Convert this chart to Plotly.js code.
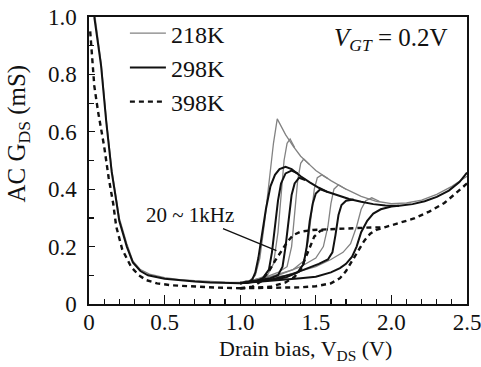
<!DOCTYPE html>
<html>
<head>
<meta charset="utf-8">
<script src="https://cdn.plot.ly/plotly-3.0.1.min.js"></script>
<style>html,body{margin:0;padding:0;background:#fff;}#chart{width:481px;height:367px;}</style>
</head>
<body>
<div id="chart"></div>
<script>
// ---- data ----
var xTickVals = [0, 0.5, 1.0, 1.5, 2.0, 2.5];
var xTickText = ['0', '0.5', '1.0', '1.5', '2.0', '2.5'];
var yTickVals = [0, 0.2, 0.4, 0.6, 0.8, 1.0];
var yTickText = ['0', '0.2', '0.4', '0.6', '0.8', '1.0'];
var tempLabels = ['218K', '298K', '398K'];

// 218K (grey) low-bias branch and frequency curves
var g_low_x = [0.04,0.08,0.115,0.15,0.18,0.2,0.25,0.29,0.34,0.4,0.5,0.6,0.7,0.8,0.9,1.0];
var g_low_y = [1.0,0.84,0.64,0.47,0.37,0.30,0.21,0.15,0.12,0.104,0.092,0.085,0.081,0.078,0.076,0.075];
var g1_x = [1.0,1.06,1.1,1.13,1.16,1.19,1.22,1.245,1.27,1.3,1.35,1.4,1.45,1.5,1.6,1.7,1.8,1.9,2.0,2.1,2.2,2.3,2.4,2.5];
var g1_y = [0.075,0.08,0.1,0.16,0.28,0.42,0.56,0.645,0.62,0.59,0.55,0.515,0.49,0.465,0.43,0.40,0.375,0.358,0.35,0.352,0.362,0.382,0.41,0.445];
var g2_x = [1.0,1.1,1.18,1.22,1.25,1.27,1.29,1.31,1.33,1.36];
var g2_y = [0.075,0.085,0.1,0.14,0.25,0.38,0.5,0.56,0.575,0.545];
var g3_x = [1.0,1.15,1.25,1.31,1.34,1.36,1.38,1.4,1.42,1.46];
var g3_y = [0.075,0.09,0.11,0.13,0.2,0.32,0.43,0.49,0.505,0.485];
var g4_x = [1.0,1.2,1.35,1.42,1.45,1.47,1.49,1.51,1.54,1.58];
var g4_y = [0.075,0.095,0.12,0.15,0.22,0.32,0.4,0.44,0.45,0.437];
var g5_x = [1.0,1.25,1.4,1.5,1.55,1.58,1.6,1.62,1.65,1.7];
var g5_y = [0.075,0.1,0.13,0.16,0.2,0.27,0.35,0.4,0.415,0.4];
var g6_x = [1.0,1.3,1.5,1.6,1.68,1.73,1.77,1.8,1.83,1.87,1.92];
var g6_y = [0.075,0.1,0.13,0.155,0.18,0.21,0.27,0.33,0.36,0.37,0.358];

// 298K (solid black)
var s_low_x = [0.035,0.08,0.115,0.15,0.18,0.2,0.25,0.29,0.34,0.39,0.5,0.6,0.7,0.8,0.9,1.0];
var s_low_y = [1.0,0.83,0.63,0.46,0.36,0.29,0.2,0.145,0.115,0.1,0.088,0.082,0.078,0.075,0.073,0.072];
var s1_x = [1.0,1.05,1.08,1.1,1.12,1.14,1.17,1.2,1.23,1.26,1.3,1.34,1.4,1.46,1.52,1.58,1.65,1.72,1.8,1.88,1.96,2.05,2.14,2.22,2.3,2.38,2.45,2.5];
var s1_y = [0.072,0.075,0.085,0.11,0.16,0.23,0.33,0.41,0.45,0.47,0.478,0.47,0.445,0.424,0.405,0.39,0.377,0.366,0.356,0.348,0.343,0.342,0.348,0.358,0.373,0.395,0.425,0.458];
var s2_x = [1.0,1.1,1.15,1.19,1.21,1.23,1.25,1.27,1.3,1.34,1.38];
var s2_y = [0.072,0.078,0.09,0.12,0.18,0.27,0.36,0.42,0.455,0.465,0.455];
var s3_x = [1.0,1.1,1.2,1.25,1.28,1.3,1.32,1.34,1.36,1.39,1.43];
var s3_y = [0.072,0.08,0.09,0.1,0.13,0.2,0.3,0.38,0.42,0.44,0.432];
var s4_x = [1.0,1.15,1.3,1.38,1.42,1.44,1.46,1.48,1.5,1.53,1.58];
var s4_y = [0.072,0.08,0.092,0.11,0.14,0.2,0.29,0.35,0.385,0.4,0.39];
var s5_x = [1.0,1.2,1.35,1.45,1.52,1.58,1.61,1.63,1.65,1.67,1.7,1.75];
var s5_y = [0.072,0.085,0.105,0.125,0.14,0.155,0.18,0.24,0.31,0.345,0.36,0.364];
var s6_x = [1.0,1.2,1.4,1.5,1.6,1.66,1.7,1.74,1.77,1.8,1.84,1.88,1.93,2.0,2.05];
var s6_y = [0.072,0.08,0.09,0.095,0.11,0.125,0.14,0.165,0.2,0.25,0.29,0.315,0.33,0.34,0.342];

// 398K (dashed)
var d_low_x = [0.008,0.02,0.035,0.06,0.1,0.13,0.16,0.18,0.22,0.28,0.33,0.38,0.45,0.55,0.7,0.85,1.0];
var d_low_y = [0.95,0.85,0.76,0.67,0.55,0.44,0.35,0.27,0.19,0.128,0.1,0.083,0.072,0.065,0.06,0.057,0.055];
var d1_x = [1.0,1.08,1.14,1.19,1.23,1.27,1.31,1.35,1.4,1.48,1.56,1.64,1.72,1.8,1.88,1.94];
var d1_y = [0.055,0.06,0.08,0.115,0.15,0.185,0.215,0.24,0.252,0.258,0.26,0.262,0.265,0.266,0.267,0.267];
var d2_x = [1.0,1.2,1.3,1.36,1.4,1.43,1.46,1.49,1.53,1.58];
var d2_y = [0.055,0.06,0.075,0.095,0.12,0.16,0.2,0.235,0.255,0.26];
var d3_x = [1.0,1.2,1.4,1.5,1.6,1.66,1.7,1.74,1.78,1.82,1.86,1.9,1.96,2.05,2.15,2.25,2.35,2.42,2.5];
var d3_y = [0.055,0.056,0.058,0.062,0.072,0.09,0.115,0.15,0.185,0.22,0.245,0.258,0.268,0.282,0.298,0.322,0.352,0.383,0.42];

// ---- styles ----
var greyLine = {color: '#828282', width: 1.3};
var blackLine = {color: '#111111', width: 2};
var dashLine = {color: '#111111', width: 2.4, dash: '5px,4px'};

function tr(x, y, line, name, group, show) {
  return {x: x, y: y, type: 'scatter', mode: 'lines', line: line,
          name: name, legendgroup: group, showlegend: !!show, hoverinfo: 'skip'};
}

var traces = [
  tr(g_low_x, g_low_y, greyLine, tempLabels[0], 'g', true),
  tr(g1_x, g1_y, greyLine, tempLabels[0], 'g'),
  tr(g2_x, g2_y, greyLine, tempLabels[0], 'g'),
  tr(g3_x, g3_y, greyLine, tempLabels[0], 'g'),
  tr(g4_x, g4_y, greyLine, tempLabels[0], 'g'),
  tr(g5_x, g5_y, greyLine, tempLabels[0], 'g'),
  tr(g6_x, g6_y, greyLine, tempLabels[0], 'g'),
  tr(s_low_x, s_low_y, blackLine, tempLabels[1], 's', true),
  tr(s1_x, s1_y, blackLine, tempLabels[1], 's'),
  tr(s2_x, s2_y, blackLine, tempLabels[1], 's'),
  tr(s3_x, s3_y, blackLine, tempLabels[1], 's'),
  tr(s4_x, s4_y, blackLine, tempLabels[1], 's'),
  tr(s5_x, s5_y, blackLine, tempLabels[1], 's'),
  tr(s6_x, s6_y, blackLine, tempLabels[1], 's'),
  tr(d_low_x, d_low_y, dashLine, tempLabels[2], 'd', true),
  tr(d1_x, d1_y, dashLine, tempLabels[2], 'd'),
  tr(d2_x, d2_y, dashLine, tempLabels[2], 'd'),
  tr(d3_x, d3_y, dashLine, tempLabels[2], 'd')
];

var FONT = 'Liberation Serif, DejaVu Serif, serif';

var layout = {
  width: 481, height: 367,
  margin: {l: 89, r: 14, t: 16, b: 63},
  paper_bgcolor: '#ffffff', plot_bgcolor: '#ffffff',
  font: {family: FONT, size: 20, color: '#111'},
  showlegend: true,
  legend: {x: 0.095, y: 1.017, xanchor: 'left', yanchor: 'top',
           bgcolor: 'rgba(0,0,0,0)', borderwidth: 0,
           font: {family: FONT, size: 24, color: '#111'},
           itemwidth: 36, tracegroupgap: 0, traceorder: 'grouped'},
  xaxis: {range: [0, 2.5], tickmode: 'array', tickvals: xTickVals, ticktext: xTickText,
          ticks: 'inside', ticklen: 9, tickwidth: 1.3, tickcolor: '#111',
          minor: {tickmode: 'linear', tick0: 0, dtick: 0.1, ticks: 'inside', ticklen: 5, tickwidth: 1.2, tickcolor: '#111', showgrid: false},
          showline: true, linecolor: '#111', linewidth: 1.6, mirror: true,
          showgrid: false, zeroline: false, ticklabeloverflow: 'allow',
          tickfont: {family: FONT, size: 23}, ticklabelstandoff: -3},
  yaxis: {range: [0, 1.0], tickmode: 'array', tickvals: yTickVals, ticktext: yTickText,
          ticks: 'inside', ticklen: 6, tickwidth: 1.3, tickcolor: '#111',
          minor: {tickmode: 'linear', tick0: 0, dtick: 0.1, ticks: 'inside', ticklen: 5, tickwidth: 1.2, tickcolor: '#111', showgrid: false},
          showline: true, linecolor: '#111', linewidth: 1.6, mirror: true,
          showgrid: false, zeroline: false, ticklabeloverflow: 'allow',
          tickfont: {family: FONT, size: 23}, ticklabelstandoff: 6},
  annotations: [
    {x: 0.573, y: -0.16, xref: 'paper', yref: 'paper', showarrow: false,
     xanchor: 'center', yanchor: 'middle',
     text: 'Drain bias, V<sub>DS</sub> (V)', font: {family: FONT, size: 22, color: '#111'}},
    {x: -0.186, y: 0.593, xref: 'paper', yref: 'paper', showarrow: false,
     xanchor: 'center', yanchor: 'middle', textangle: -90,
     text: 'AC G<sub>DS</sub> (mS)', font: {family: FONT, size: 25, color: '#111'}},
    {x: 2.0, y: 0.923, xref: 'x', yref: 'y', showarrow: false,
     text: '<i>V</i><sub><i>GT</i></sub> = 0.2V', font: {family: FONT, size: 25, color: '#111'}},
    {x: 1.24, y: 0.186, xref: 'x', yref: 'y', ax: 0.67, ay: 0.31, axref: 'x', ayref: 'y',
     showarrow: true, arrowhead: 0, arrowwidth: 1.3, arrowcolor: '#111',
     text: '20 ~ 1kHz', font: {family: FONT, size: 21, color: '#111'}}
  ]
};

Plotly.newPlot('chart', traces, layout, {displayModeBar: false, staticPlot: true});
</script>
</body>
</html>
